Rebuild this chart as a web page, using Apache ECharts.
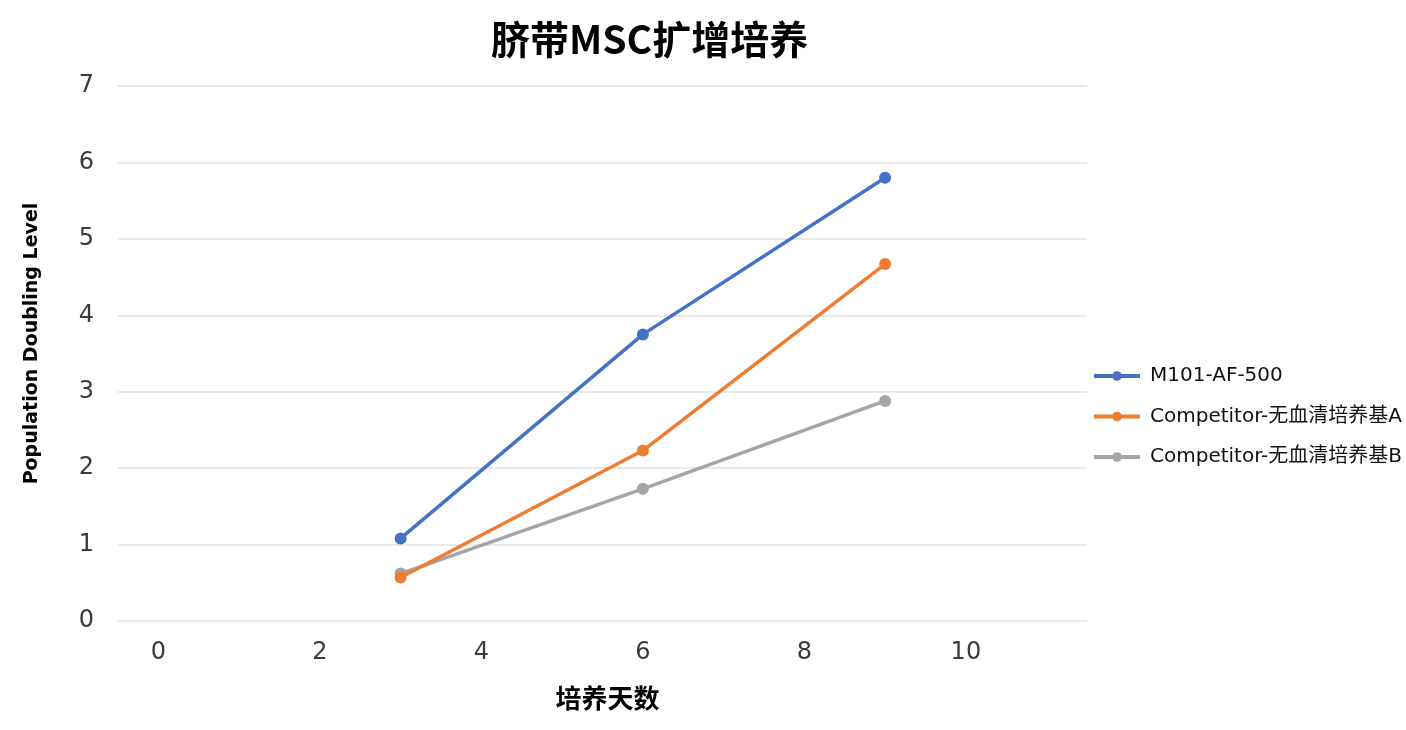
<!DOCTYPE html>
<html><head><meta charset="utf-8">
<script src="https://cdn.jsdelivr.net/npm/echarts@6/dist/echarts.min.js"></script>
<style>html,body{margin:0;padding:0;background:#fff}#c{width:1406px;height:730px}</style>
</head><body><div id="c"></div>
<script>
const days = [3, 6, 9];
const seriesNames = ['M101-AF-500', 'Competitor-无血清培养基A', 'Competitor-无血清培养基B'];
const m101 = [1.08, 3.75, 5.80];
const compA = [0.57, 2.23, 4.67];
const compB = [0.62, 1.73, 2.88];
const xTicks = [0, 2, 4, 6, 8, 10];
const colors = ['#4472c4', '#ed7d31', '#a5a5a5'];
const values = [m101, compA, compB];

const latin = 'DejaVu Sans, Noto Sans CJK SC, sans-serif';
const chart = echarts.init(document.getElementById('c'));
chart.setOption({
  animation: false,
  title: {
    text: '脐带MSC扩增培养', left: 486, top: 15,
    textStyle: {fontSize: 39, fontWeight: 'bold', color: '#000', fontFamily: 'Noto Sans CJK SC'}
  },
  legend: {
    orient: 'vertical', left: 1087, top: 361, itemGap: 20.5, itemWidth: 46, itemHeight: 12,
    lineStyle: {width: 4},
    textStyle: {fontSize: 20, color: '#111', fontFamily: latin, padding: [0, 0, 0, 5]},
    data: seriesNames
  },
  grid: {left: 118, right: 319, top: 86, bottom: 109},
  xAxis: {
    type: 'value', min: -0.5, max: 11.5,
    name: '培养天数', nameLocation: 'middle', nameGap: 64,
    nameTextStyle: {fontSize: 26, fontWeight: 'bold', color: '#000', fontFamily: 'Noto Sans CJK SC', padding: [0, 0, 0, 10]},
    axisLine: {show: false}, axisTick: {show: false},
    splitLine: {show: false},
    axisLabel: {customValues: xTicks, fontSize: 24, color: '#3a3a3a', margin: 20, fontFamily: latin}
  },
  yAxis: {
    type: 'value', min: 0, max: 7, interval: 1,
    name: 'Population Doubling Level', nameLocation: 'middle', nameGap: 76,
    nameTextStyle: {fontSize: 19, fontWeight: 'bold', color: '#000', fontFamily: latin, padding: [0, 0, 0, 20]},
    axisLine: {show: false}, axisTick: {show: false},
    splitLine: {lineStyle: {color: '#e9e9e9', width: 2}},
    axisLabel: {fontSize: 24, color: '#3a3a3a', margin: 24, fontFamily: latin}
  },
  series: values.map((v, i) => ({
    name: seriesNames[i], type: 'line',
    data: days.map((d, j) => [d, v[j]]),
    symbol: 'circle', symbolSize: 12,
    lineStyle: {width: 3.5, color: colors[i]},
    itemStyle: {color: colors[i]},
    z: 10 - i
  }))
});
</script></body></html>
